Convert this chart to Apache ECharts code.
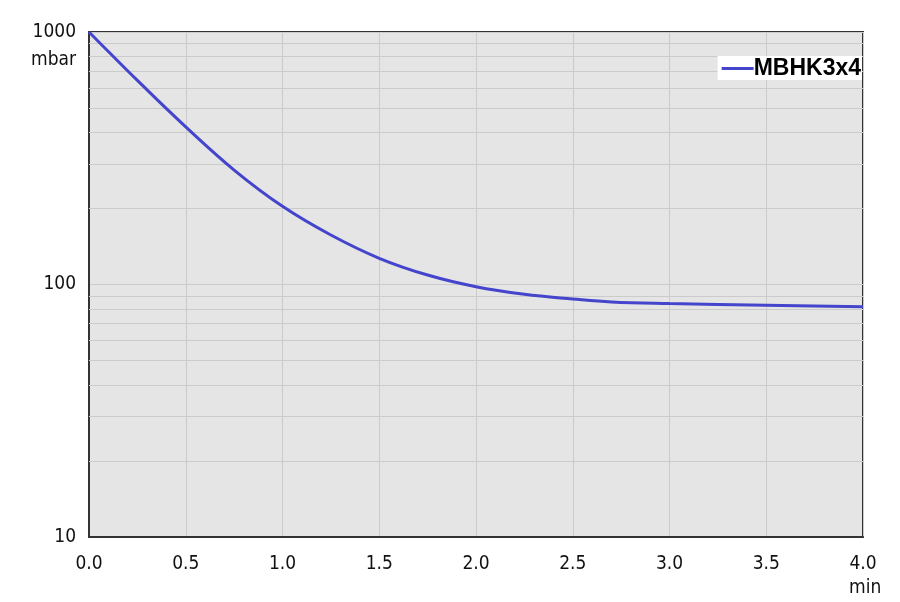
<!DOCTYPE html>
<html>
<head>
<meta charset="utf-8">
<script src="https://cdn.jsdelivr.net/npm/echarts@6/dist/echarts.min.js"></script>
<style>html,body{margin:0;padding:0;background:#fff;}#c{width:900px;height:602px;}</style>
</head>
<body>
<div id="c"></div>
<script>
var seriesName = 'MBHK3x4';
var timeMin = [0, 0.1, 0.25, 0.5, 0.75, 1.0, 1.25, 1.5, 1.75, 2.0, 2.25, 2.5, 2.7, 3.0, 3.5, 4.0];
var pressureMbar = [1000, 837, 643, 421, 284, 204, 157, 127, 109, 98, 91.5, 87.6, 85.2, 84, 82.8, 81.6];
var minorGrid = [20, 30, 40, 50, 60, 70, 80, 90, 200, 300, 400, 500, 600, 700, 800, 900];
var xTicks = { min: 0, max: 4, interval: 0.5 };
var yRange = { min: 10, max: 1000 };

var font = 'DejaVu Sans Condensed';
var gridColor = '#cbcbcb';
var chart = echarts.init(document.getElementById('c'), null, { renderer: 'canvas' });
chart.setOption({
  animation: false,
  grid: { left: 89, right: 37, top: 32, bottom: 65, show: true, backgroundColor: '#e5e5e5', borderColor: '#333', borderWidth: 2 },
  legend: {
    right: 38, top: 56, backgroundColor: '#fff', padding: [1, 1, 0, 4],
    itemWidth: 32, itemHeight: 3, itemGap: 0, icon: 'rect',
    textStyle: { fontFamily: 'Liberation Sans', fontWeight: 'bold', fontSize: 23, color: '#000', padding: [0, 0, 0, -5] },
    data: [seriesName]
  },
  xAxis: {
    type: 'value', min: xTicks.min, max: xTicks.max, interval: xTicks.interval,
    axisLine: { show: true, onZero: false, lineStyle: { color: '#333', width: 2 } },
    axisTick: { show: false },
    splitLine: { show: true, lineStyle: { color: gridColor, width: 1 } },
    axisLabel: { fontFamily: font, fontSize: 19, color: '#111', margin: 18, formatter: function (v) { return v.toFixed(1); } }
  },
  yAxis: {
    type: 'log', logBase: 10, min: yRange.min, max: yRange.max,
    axisLine: { show: true, lineStyle: { color: '#333', width: 2 } },
    axisTick: { show: false },
    splitLine: { show: true, lineStyle: { color: gridColor, width: 1 } },
    minorTick: { show: false }, minorSplitLine: { show: false },
    axisLabel: { fontFamily: font, fontSize: 19, color: '#111', margin: 13, formatter: function (v) { return String(Math.round(v)); } }
  },
  graphic: [
    { type: 'text', right: 900 - 76, top: 51, style: { text: 'mbar', font: '19px "DejaVu Sans Condensed"', fill: '#111', textAlign: 'right' } },
    { type: 'text', left: 849, top: 579, style: { text: 'min', font: '19px "DejaVu Sans Condensed"', fill: '#111' } }
  ],
  series: [{
    name: seriesName, type: 'line', smooth: 0.4, showSymbol: false,
    data: timeMin.map(function (t, i) { return [t, pressureMbar[i]]; }),
    lineStyle: { color: '#4444cc', width: 3 },
    itemStyle: { color: '#4444cc' },
    z: 5,
    markLine: {
      silent: true, symbol: 'none', label: { show: false },
      lineStyle: { color: gridColor, width: 1, type: 'solid' },
      data: minorGrid.map(function (v) { return { yAxis: v }; }),
      z: 1
    }
  }]
});
</script>
</body>
</html>
